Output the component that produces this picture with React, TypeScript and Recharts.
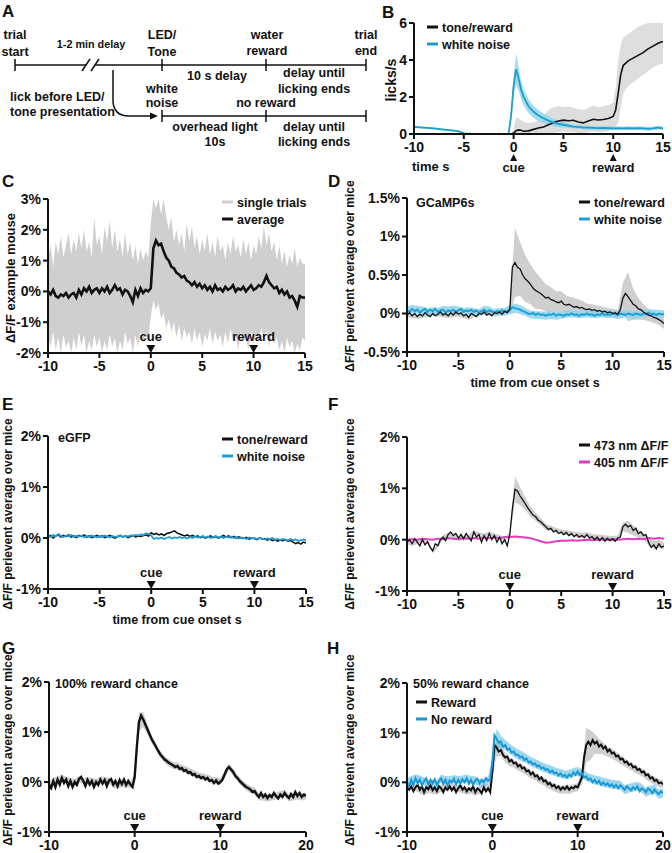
import React from 'react';
import { ComposedChart, Line, Area, XAxis, YAxis, ReferenceDot } from 'recharts';

const FONT = '"Liberation Sans", Arial, Helvetica, sans-serif';
const INK = '#111';
const GREY = '#cfcfcf';
const CYAN = '#1f9fd5';
const CYAN_BAND = '#8fd3ee';
const MAGENTA = '#e23cbf';

// ---------- B: licks ----------
const bTime = [-10, -9, -8, -7, -6, -5.5, -5, -4, -3, -2, -1, -0.5, -0.25, 0, 0.25, 0.5, 0.75, 1, 1.5, 2, 2.5, 3, 3.5, 4, 4.5, 5, 5.5, 6, 6.5, 7, 7.5, 8, 8.5, 9, 9.5, 10, 10.25, 10.5, 10.75, 11, 11.5, 12, 12.5, 13, 13.5, 14, 14.5, 15];
const bTone = [0, 0, 0, 0, 0, 0, 0, 0, 0, 0, 0, 0, 0,
  0.05, 0.18, 0.22, 0.2, 0.15, 0.17, 0.25, 0.32, 0.38, 0.5, 0.62, 0.7, 0.75,
  0.72, 0.74, 0.65, 0.6, 0.7, 0.8, 0.76, 0.78, 0.84, 0.95, 1.3, 2.2, 3.2, 3.7,
  3.95, 4.1, 4.25, 4.4, 4.6, 4.75, 4.9, 5.0];
const bToneLo = [0, 0, 0, 0, 0, 0, 0, 0, 0, 0, 0, 0, 0,
  0, 0, 0, 0, 0, 0, 0, 0, 0, 0, 0.05, 0.1, 0.15,
  0.1, 0.1, 0.05, 0.05, 0.1, 0.15, 0.1, 0.1, 0.15, 0.3, 0.4, 0.6, 1.4, 2.2,
  2.6, 2.8, 3.0, 3.2, 3.4, 3.6, 3.75, 3.8];
const bToneHi = [0, 0, 0, 0, 0, 0, 0, 0, 0, 0, 0, 0, 0,
  0.3, 0.9, 0.85, 0.75, 0.65, 0.6, 0.65, 0.75, 0.95, 1.3, 1.45, 1.5, 1.45,
  1.5, 1.4, 1.35, 1.3, 1.4, 1.55, 1.45, 1.5, 1.55, 1.7, 2.5, 4.0, 4.8, 5.2,
  5.4, 5.6, 5.8, 5.9, 6.0, 6.0, 6.0, 6.0];
const bNoise = [0.38, 0.34, 0.3, 0.24, 0.18, 0.14, 0.03, 0, 0, 0, 0, 0.02, 1.0,
  2.6, 3.5, 3.0, 2.4, 2.0, 1.5, 1.2, 1.0, 0.85, 0.72, 0.62, 0.55, 0.5,
  0.45, 0.4, 0.38, 0.35, 0.34, 0.33, 0.32, 0.33, 0.32, 0.3, 0.3, 0.31, 0.3, 0.3,
  0.32, 0.3, 0.31, 0.3, 0.28, 0.3, 0.34, 0.3];
const bNoiseSem = [0.05, 0.05, 0.05, 0.05, 0.05, 0.05, 0.05, 0, 0, 0, 0, 0.05, 0.3,
  0.5, 0.85, 0.65, 0.5, 0.45, 0.38, 0.33, 0.3, 0.27, 0.24, 0.2, 0.18, 0.15,
  0.13, 0.1, 0.1, 0.1, 0.1, 0.1, 0.1, 0.1, 0.1, 0.1, 0.1, 0.1, 0.1, 0.1,
  0.1, 0.1, 0.1, 0.1, 0.1, 0.1, 0.1, 0.1];

// ---------- C: example mouse (0.25 s grid from -10) ----------
const cAvg = [
  0.0, -0.1, 0.05, -0.15, -0.2, -0.1, -0.15, -0.05,
  -0.2, -0.1, -0.05, -0.2, 0.05, -0.1, 0.1, 0.0,
  0.15, -0.05, 0.05, 0.1, -0.05, 0.1, 0.0, 0.15,
  -0.05, 0.05, 0.2, 0.05, 0.1, -0.1, 0.05, 0.0,
  -0.15, -0.35, 0.05, -0.15, 0.1, -0.05, 0.05, 0.0,
  0.1, 1.4, 1.65, 1.5, 1.55, 1.3, 1.1, 1.0,
  0.8, 0.75, 0.6, 0.55, 0.45, 0.5, 0.35, 0.3,
  0.2, 0.3, 0.15, 0.25, 0.1, 0.2, 0.05, 0.15,
  0.0, 0.2, 0.05, 0.1, 0.0, 0.15, 0.05, 0.1,
  0.2, 0.0, 0.1, 0.05, 0.15, 0.0, 0.1, 0.2,
  0.05, 0.1, 0.2, 0.15, 0.3, 0.5, 0.3, 0.2,
  0.1, 0.15, -0.05, 0.05, -0.1, 0.0, -0.2, -0.15,
  -0.3, -0.5, -0.15, -0.2, -0.2];
const cTrialsHi = [
  1.0, 1.5, 0.8, 1.6, 1.2, 1.8, 1.1, 1.5,
  1.9, 1.2, 1.7, 1.3, 1.9, 1.4, 2.0, 1.3,
  1.6, 1.1, 2.4, 1.5, 1.8, 1.2, 2.1, 1.6,
  2.3, 1.4, 2.0, 1.3, 1.7, 1.1, 1.9, 1.2,
  1.6, 1.0, 1.5, 0.9, 1.4, 1.0, 1.3, 1.1,
  2.2, 3.0, 2.7, 3.0, 2.5, 3.0, 2.4, 2.0,
  2.4, 1.6, 2.0, 1.5, 1.9, 1.3, 2.2, 1.6,
  2.1, 1.4, 1.8, 1.2, 1.7, 1.3, 1.9, 1.2,
  1.6, 1.1, 1.8, 1.3, 1.5, 1.0, 1.6, 1.2,
  1.8, 1.3, 1.5, 1.1, 1.7, 1.2, 1.6, 1.0,
  1.5, 1.2, 1.8, 1.4, 2.1, 1.5, 1.9, 1.3,
  1.6, 1.0, 1.5, 0.9, 1.3, 0.8, 1.2, 0.9,
  1.4, 0.8, 1.1, 0.9, 0.9];
const cTrialsLo = [
  -1.4, -1.8, -1.3, -1.9, -1.5, -2.0, -1.4, -1.8,
  -1.6, -2.0, -1.5, -1.9, -1.3, -1.8, -1.4, -2.0,
  -1.6, -1.9, -1.4, -1.8, -1.5, -2.0, -1.6, -1.9,
  -1.4, -1.8, -1.5, -2.0, -1.6, -1.9, -1.3, -1.7,
  -1.5, -2.0, -1.4, -1.8, -1.3, -1.7, -1.4, -1.6,
  -0.8, -0.3, -0.6, -0.4, -0.9, -0.7, -1.2, -0.9,
  -1.3, -1.0, -1.5, -1.1, -1.6, -1.2, -1.5, -1.3,
  -1.7, -1.2, -1.6, -1.3, -1.8, -1.4, -1.6, -1.2,
  -1.7, -1.3, -1.6, -1.4, -1.8, -1.3, -1.7, -1.2,
  -1.6, -1.4, -1.9, -1.3, -1.6, -1.5, -1.9, -1.3,
  -1.7, -1.4, -1.6, -1.2, -1.5, -1.3, -1.8, -1.4,
  -1.7, -1.5, -1.9, -1.6, -2.0, -1.5, -1.8, -1.6,
  -2.0, -1.7, -1.9, -1.5, -1.6];

// ---------- D: GCaMP6s ----------
const dTone = [
  -0.02, 0.01, -0.03, 0.0, -0.04, -0.01, -0.03, 0.01,
  -0.02, -0.04, 0.0, -0.03, -0.01, 0.02, -0.02, 0.0,
  -0.03, 0.01, -0.02, 0.02, -0.01, 0.01, -0.03, -0.01,
  -0.05, 0.0, -0.02, -0.04, 0.0, -0.01, 0.02, -0.02,
  0.0, -0.03, 0.01, 0.0, 0.02, -0.01, 0.03, 0.01,
  0.05, 0.6, 0.66, 0.6, 0.58, 0.5, 0.45, 0.42,
  0.38, 0.33, 0.3, 0.28, 0.26, 0.23, 0.2, 0.21,
  0.18, 0.17, 0.15, 0.14, 0.16, 0.12, 0.11, 0.12,
  0.1, 0.08, 0.09, 0.07, 0.08, 0.06, 0.05, 0.06,
  0.04, 0.05, 0.03, 0.04, 0.02, 0.03, 0.01, 0.02,
  0.0, 0.01, -0.01, 0.05, 0.2, 0.26, 0.22, 0.17,
  0.12, 0.1, 0.06, 0.05, 0.02, 0.0, -0.02, -0.03,
  -0.05, -0.06, -0.08, -0.1, -0.13];
const dToneSem = [
  0.03, 0.03, 0.03, 0.03, 0.03, 0.03, 0.03, 0.03,
  0.03, 0.03, 0.03, 0.03, 0.03, 0.03, 0.03, 0.03,
  0.03, 0.03, 0.03, 0.03,
  0.05, 0.45, 0.35, 0.3, 0.26, 0.24, 0.2, 0.18,
  0.16, 0.14, 0.13, 0.12, 0.11, 0.1, 0.09, 0.08,
  0.08, 0.07, 0.07, 0.06, 0.06, 0.06, 0.2, 0.32,
  0.2, 0.14, 0.1, 0.08, 0.07, 0.07, 0.07];
const dNoise = [
  0.04, 0.02, 0.06, 0.03, 0.05, 0.01, 0.04, 0.06,
  0.02, 0.05, 0.03, 0.06, 0.02, 0.04, 0.05, 0.01,
  0.04, 0.03, 0.05, 0.02, 0.04, 0.06, 0.02, 0.04,
  0.03, 0.05, 0.02, 0.04, 0.01, 0.03, 0.05, 0.02,
  0.04, 0.03, 0.01, 0.03, 0.02, 0.04, 0.02, 0.03,
  0.05, 0.08, 0.07, 0.06, 0.05, 0.03, 0.02, 0.0,
  -0.01, 0.01, -0.02, 0.0, -0.02, -0.01, -0.03, -0.01,
  -0.02, 0.0, -0.03, -0.01, -0.02, -0.03, -0.01, -0.02,
  0.0, -0.02, -0.01, -0.03, -0.01, -0.02, 0.0, -0.02,
  -0.01, -0.03, -0.01, -0.02, 0.0, -0.02, -0.01, -0.02,
  0.0, -0.01, -0.02, 0.0, -0.01, -0.02, 0.0, -0.01,
  -0.02, 0.0, -0.01, -0.02, 0.0, -0.01, 0.01, -0.01,
  0.0, -0.02, 0.0, -0.01, -0.01];
const dNoiseSem = [
  0.05, 0.05, 0.05, 0.05, 0.05, 0.05, 0.05, 0.05,
  0.05, 0.05, 0.05, 0.05, 0.05, 0.05, 0.05, 0.05,
  0.05, 0.05, 0.05, 0.05,
  0.06, 0.06, 0.06, 0.05, 0.05, 0.05, 0.05, 0.05,
  0.05, 0.05, 0.05, 0.05, 0.05, 0.05, 0.05, 0.05,
  0.05, 0.05, 0.05, 0.05, 0.05, 0.05, 0.05, 0.05,
  0.05, 0.05, 0.05, 0.05, 0.05, 0.05, 0.05];

// ---------- E: eGFP ----------
const eTone = [
  0.02, 0.05, 0.0, 0.04, 0.06, 0.02, 0.05, 0.03,
  0.06, 0.02, 0.04, 0.01, 0.05, 0.03, 0.06, 0.02,
  0.04, 0.01, 0.03, 0.05, 0.02, 0.04, 0.01, 0.03,
  0.05, 0.02, 0.0, 0.03, 0.05, 0.02, 0.04, 0.01,
  0.03, 0.05, 0.02, 0.04, 0.03, 0.05, 0.06, 0.04,
  0.1, 0.07, 0.09, 0.06, 0.08, 0.05, 0.09, 0.1,
  0.12, 0.14, 0.1, 0.08, 0.06, 0.04, 0.06, 0.03,
  0.05, 0.02, 0.04, 0.01, 0.03, 0.0, 0.02, 0.04,
  0.01, 0.03, 0.0, 0.02, 0.05, 0.02, 0.04, 0.01,
  0.03, 0.0, 0.02, 0.0, -0.01, 0.01, -0.02, 0.0,
  -0.01, -0.03, 0.0, -0.02, -0.01, -0.04, -0.02, -0.05,
  -0.03, -0.06, -0.04, -0.05, -0.03, -0.06, -0.05, -0.08,
  -0.11, -0.09, -0.12, -0.08, -0.1];
const eNoise = [
  0.04, 0.02, 0.06, 0.03, 0.08, 0.04, 0.02, 0.05,
  0.03, 0.06, 0.02, 0.04, 0.03, 0.05, 0.01, 0.04,
  0.02, 0.05, 0.03, 0.01, 0.04, 0.02, 0.05, 0.03,
  0.01, 0.04, 0.02, 0.03, 0.05, 0.02, 0.04, 0.03,
  0.05, 0.04, 0.06, 0.05, 0.07, 0.06, 0.09, 0.08,
  0.05, -0.02, 0.0, -0.01, 0.01, -0.02, 0.0, 0.02,
  -0.01, 0.01, 0.0, 0.02, 0.0, 0.01, -0.01, 0.02,
  0.0, 0.03, 0.01, 0.02, 0.04, 0.01, 0.03, 0.0,
  0.02, 0.04, 0.01, 0.03, 0.0, 0.02, 0.01, 0.03,
  0.0, 0.02, -0.01, 0.01, 0.0, -0.02, 0.01, -0.01,
  0.0, -0.02, 0.0, -0.01, -0.03, -0.01, -0.02, 0.0,
  -0.03, -0.02, -0.04, -0.02, -0.03, -0.05, -0.02, -0.04,
  -0.03, -0.06, -0.04, -0.03, -0.05];

// ---------- F: 473 vs 405 nm ----------
const f473 = [
  -0.05, 0.0, -0.08, 0.02, -0.05, -0.12, 0.0, -0.1,
  -0.04, -0.15, -0.22, -0.08, -0.12, 0.0, 0.05, -0.02,
  0.1, 0.15, 0.08, 0.12, 0.03, 0.1, 0.02, 0.12,
  0.05, -0.02, 0.15, 0.05, 0.1, -0.05, 0.08, -0.02,
  0.12, 0.0, 0.08, -0.05, 0.05, -0.08, 0.0, -0.12,
  0.1, 0.6, 0.98, 0.95, 0.85, 0.78, 0.7, 0.62,
  0.55, 0.48, 0.45, 0.38, 0.35, 0.3, 0.25, 0.2,
  0.22, 0.15, 0.18, 0.12, 0.15, 0.1, 0.14, 0.08,
  0.12, 0.06, 0.1, 0.05, 0.08, 0.04, 0.1, 0.03,
  0.06, 0.0, 0.05, -0.02, 0.04, -0.03, 0.03, -0.02,
  0.02, -0.03, 0.03, 0.05, 0.25, 0.3, 0.25, 0.28,
  0.18, 0.22, 0.12, 0.15, 0.08, 0.1, -0.05, -0.15,
  -0.1, -0.18, -0.08, -0.15, -0.12];
const f473Sem = [
  0.04, 0.04, 0.04, 0.04, 0.04, 0.04, 0.04, 0.04,
  0.04, 0.04, 0.04, 0.04, 0.04, 0.04, 0.04, 0.04,
  0.04, 0.04, 0.04, 0.04,
  0.05, 0.25, 0.18, 0.12, 0.1, 0.08, 0.07, 0.06,
  0.05, 0.05, 0.05, 0.05, 0.05, 0.05, 0.05, 0.05,
  0.05, 0.05, 0.05, 0.05, 0.05, 0.05, 0.08, 0.12,
  0.1, 0.08, 0.06, 0.07, 0.08, 0.08, 0.07];
// 0.5 s grid
const f405 = [
  0.0, 0.01, 0.0, 0.02, 0.01, 0.0, 0.02, 0.01,
  0.03, 0.02, 0.01, 0.03, 0.02, 0.03, 0.02, 0.04,
  0.03, 0.04, 0.03, 0.05,
  0.05, 0.06, 0.05, 0.04, 0.03, 0.0, -0.03, -0.06,
  -0.05, -0.03, -0.02, -0.02, -0.01, -0.02, -0.01, 0.0,
  -0.01, 0.0, 0.01, 0.0, 0.01, 0.0, 0.01, 0.02,
  0.01, 0.02, 0.01, 0.03, 0.02, 0.03, 0.02];

// ---------- G: 100% reward chance (0.25 s grid, -10..20) ----------
const gAll = [
  -0.05, -0.12, 0.02, -0.1, 0.05, -0.05, 0.08, -0.02,
  0.05, -0.08, 0.02, -0.1, 0.0, -0.06, 0.06, 0.1,
  0.02, -0.08, 0.04, -0.05, 0.02, -0.1, 0.0, -0.06,
  0.05, -0.03, 0.04, -0.08, 0.03, 0.06, -0.05, 0.02,
  -0.08, 0.04, -0.04, 0.05, -0.06, 0.02, -0.05, -0.1,
  0.1, 0.7, 1.2, 1.33, 1.25, 1.15, 1.05, 0.95,
  0.85, 0.78, 0.7, 0.62, 0.55, 0.5, 0.45, 0.42,
  0.38, 0.36, 0.33, 0.3, 0.32, 0.26, 0.28, 0.22,
  0.24, 0.18, 0.2, 0.14, 0.16, 0.1, 0.12, 0.08,
  0.1, 0.05, 0.08, 0.02, 0.04, -0.02, 0.03, -0.03,
  0.0, 0.05, 0.15, 0.25, 0.3, 0.25, 0.2, 0.12,
  0.08, 0.02, -0.02, -0.06, -0.1, -0.12, -0.15, -0.2,
  -0.18, -0.25, -0.3, -0.22, -0.3, -0.25, -0.32, -0.26,
  -0.3, -0.22, -0.28, -0.33, -0.25, -0.3, -0.22, -0.28,
  -0.32, -0.24, -0.3, -0.2, -0.28, -0.22, -0.3, -0.25,
  -0.28];
const gAllSem = [
  0.06, 0.06, 0.06, 0.06, 0.06, 0.06, 0.06, 0.06,
  0.06, 0.06, 0.06, 0.06, 0.06, 0.06, 0.06, 0.06,
  0.06, 0.06, 0.06, 0.06,
  0.06, 0.18, 0.15, 0.1, 0.08, 0.07, 0.07, 0.07,
  0.07, 0.07, 0.07, 0.07, 0.07, 0.07, 0.07, 0.07,
  0.07, 0.07, 0.07, 0.07, 0.07, 0.07, 0.07, 0.07,
  0.07, 0.07, 0.07, 0.07, 0.07, 0.07, 0.07, 0.07,
  0.07, 0.07, 0.07, 0.07, 0.07, 0.07, 0.07, 0.07,
  0.07];

// ---------- H: 50% reward chance ----------
const hReward = [
  -0.1, -0.15, -0.08, -0.18, -0.1, -0.05, -0.15, -0.08,
  -0.2, -0.1, -0.14, -0.06, -0.16, -0.1, -0.18, -0.08,
  -0.12, -0.2, -0.1, -0.15, -0.08, -0.16, -0.1, -0.2,
  -0.12, -0.06, -0.15, -0.1, -0.18, -0.12, -0.16, -0.08,
  -0.2, -0.12, -0.16, -0.22, -0.1, -0.18, -0.12, -0.2,
  0.2, 0.75, 0.7, 0.62, 0.65, 0.55, 0.5, 0.52,
  0.42, 0.45, 0.38, 0.4, 0.32, 0.35, 0.28, 0.3,
  0.22, 0.24, 0.16, 0.2, 0.12, 0.14, 0.06, 0.1,
  0.02, 0.04, -0.04, -0.01, -0.08, -0.05, -0.12, -0.08,
  -0.15, -0.1, -0.14, -0.08, -0.15, -0.1, -0.12, -0.08,
  -0.1, 0.0, 0.1, 0.5, 0.75, 0.82, 0.75, 0.85,
  0.78, 0.82, 0.72, 0.76, 0.68, 0.72, 0.62, 0.66,
  0.58, 0.6, 0.52, 0.54, 0.46, 0.48, 0.4, 0.42,
  0.35, 0.37, 0.3, 0.32, 0.25, 0.27, 0.2, 0.22,
  0.14, 0.16, 0.08, 0.1, 0.03, 0.05, -0.02, 0.0,
  -0.04];
const hRewardSem = [
  0.07, 0.07, 0.07, 0.07, 0.07, 0.07, 0.07, 0.07,
  0.07, 0.07, 0.07, 0.07, 0.07, 0.07, 0.07, 0.07,
  0.07, 0.07, 0.07, 0.07,
  0.08, 0.18, 0.12, 0.1, 0.09, 0.08, 0.08, 0.08,
  0.08, 0.08, 0.08, 0.08, 0.08, 0.08, 0.08, 0.08,
  0.08, 0.08, 0.08, 0.08, 0.08, 0.15, 0.35, 0.3,
  0.2, 0.15, 0.12, 0.1, 0.1, 0.09, 0.09, 0.08,
  0.08, 0.08, 0.08, 0.08, 0.08, 0.08, 0.08, 0.08,
  0.08];
const hNoReward = [
  0.0, -0.08, 0.05, -0.05, 0.08, -0.02, 0.06, -0.06,
  0.02, 0.08, -0.04, 0.05, -0.02, 0.06, -0.05, 0.03,
  0.08, -0.03, 0.05, -0.06, 0.04, 0.0, 0.07, -0.04,
  0.05, -0.02, 0.06, 0.0, 0.08, -0.03, 0.05, -0.05,
  0.04, 0.07, -0.02, 0.05, 0.0, 0.08, 0.03, 0.06,
  0.4, 0.95, 0.88, 0.8, 0.82, 0.72, 0.75, 0.66,
  0.68, 0.6, 0.62, 0.55, 0.56, 0.5, 0.52, 0.45,
  0.48, 0.4, 0.42, 0.36, 0.38, 0.32, 0.34, 0.28,
  0.3, 0.25, 0.27, 0.2, 0.24, 0.18, 0.2, 0.14,
  0.18, 0.12, 0.15, 0.1, 0.16, 0.12, 0.2, 0.15,
  0.22, 0.15, 0.18, 0.1, 0.12, 0.05, 0.08, 0.0,
  0.05, -0.02, 0.03, -0.05, 0.0, -0.06, -0.02, -0.08,
  -0.04, -0.1, -0.05, -0.12, -0.06, -0.1, -0.15, -0.08,
  -0.12, -0.16, -0.1, -0.14, -0.08, -0.18, -0.12, -0.15,
  -0.2, -0.12, -0.16, -0.22, -0.14, -0.2, -0.24, -0.18,
  -0.22];
const hNoRewardSem = [
  0.08, 0.08, 0.08, 0.08, 0.08, 0.08, 0.08, 0.08,
  0.08, 0.08, 0.08, 0.08, 0.08, 0.08, 0.08, 0.08,
  0.08, 0.08, 0.08, 0.08,
  0.1, 0.2, 0.12, 0.1, 0.1, 0.1, 0.1, 0.1,
  0.09, 0.09, 0.09, 0.09, 0.09, 0.09, 0.09, 0.09,
  0.09, 0.09, 0.09, 0.09, 0.09, 0.09, 0.09, 0.09,
  0.09, 0.09, 0.09, 0.09, 0.09, 0.09, 0.09, 0.09,
  0.09, 0.09, 0.09, 0.09, 0.09, 0.09, 0.09, 0.09,
  0.09];

const ticks15 = [-10, -5, 0, 5, 10, 15];
const ticks20 = [-10, 0, 10, 20];

// rows on the sampling grid (samples start at -10 s)
const rows = (ys: number[], step = 0.25) => ys.map((y, i) => ({ t: -10 + i * step, y }));
const rangeRows = (hi: number[], lo: number[]) => hi.map((h, i) => ({ t: -10 + i * 0.25, r: [lo[i], h] }));
// mean ± sem band on the 0.5 s grid
const semRows = (mean: number[], sem: number[]) =>
  sem.map((s, i) => ({ t: -10 + i * 0.5, r: [mean[2 * i] - s, mean[2 * i] + s] }));

const bRows = bTime.map((t, i) => ({
  t,
  tone: bTone[i],
  noise: bNoise[i],
  toneBand: [bToneLo[i], bToneHi[i]],
  noiseBand: [Math.max(0, bNoise[i] - bNoiseSem[i]), bNoise[i] + bNoiseSem[i]],
}));

const txt = { fontFamily: FONT, fontWeight: 700, fill: INK } as const;
const axisStyle = { stroke: INK, strokeWidth: 2 };
const tickStyle = { fill: INK, fontSize: 14, fontWeight: 700, fontFamily: FONT };

const downMark = (label: string) => (p: any) => (
  <g>
    <polygon points={`${p.cx - 4.5},${p.cy - 8} ${p.cx + 4.5},${p.cy - 8} ${p.cx},${p.cy}`} fill={INK} />
    <text x={p.cx} y={p.cy - 12} textAnchor="middle" fontSize={13} style={txt}>{label}</text>
  </g>
);
const upMark = (label: string) => (p: any) => (
  <g>
    <polygon points={`${p.cx - 3.5},${p.cy + 27} ${p.cx + 3.5},${p.cy + 27} ${p.cx},${p.cy + 20}`} fill={INK} />
    <text x={p.cx} y={p.cy + 38} textAnchor="middle" fontSize={13} style={txt}>{label}</text>
  </g>
);

type Box = { x0: number; x1: number; y0: number; y1: number };

function Panel({ box, xMax, xTicks, yDomain, yTicks, pct = true, bottom = 30, data, children }: any) {
  const b: Box = box;
  const width = b.x1 - b.x0 + 70;
  const height = b.y1 - b.y0 + 10 + bottom;
  return (
    <div style={{ position: 'absolute', left: b.x0 - 60, top: b.y0 - 10 }}>
      <ComposedChart width={width} height={height} data={data} margin={{ top: 10, right: 10, bottom: 0, left: 0 }}>
        <XAxis type="number" dataKey="t" domain={[-10, xMax]} ticks={xTicks} interval={0} allowDataOverflow
          height={bottom} axisLine={axisStyle} tickLine={axisStyle} tickSize={5} tickMargin={3} tick={tickStyle} />
        <YAxis type="number" domain={yDomain} ticks={yTicks} interval={0} allowDataOverflow width={60}
          axisLine={axisStyle} tickLine={axisStyle} tickSize={5} tickMargin={2} tick={tickStyle}
          tickFormatter={pct ? (v: number) => `${v}%` : undefined} />
        {children}
      </ComposedChart>
    </div>
  );
}

const boxB = { x0: 414, x1: 663, y0: 23, y1: 134 };
const boxC = { x0: 48, x1: 305, y0: 199, y1: 353 };
const boxD = { x0: 407, x1: 664, y0: 198, y1: 352 };
const boxE = { x0: 48, x1: 306, y0: 436, y1: 589 };
const boxF = { x0: 407, x1: 664, y0: 437, y1: 591 };
const boxG = { x0: 49, x1: 306, y0: 682, y1: 832 };
const boxH = { x0: 407, x1: 663, y0: 683, y1: 832 };

function Legend({ x, y, items }: { x: number; y: number; items: [string, string][] }) {
  return (
    <g>
      {items.map(([label, color], i) => (
        <g key={label}>
          <line x1={x} x2={x + 11} y1={y + i * 17} y2={y + i * 17} stroke={color} strokeWidth={3} />
          <text x={x + 15} y={y + i * 17 + 4.5} fontSize={12.5} style={txt}>{label}</text>
        </g>
      ))}
    </g>
  );
}

function VLabel({ x, y, size = 12, children }: any) {
  return (
    <text transform={`translate(${x},${y}) rotate(-90)`} textAnchor="middle" dominantBaseline="central" fontSize={size} style={txt}>
      {children}
    </text>
  );
}

function Timeline() {
  const c = (x: number, y: number, s: string, size = 12.5) => (
    <text key={s + x + y} x={x} y={y} textAnchor="middle" fontSize={size} style={txt}>{s}</text>
  );
  return (
    <g>
      <line x1={15} x2={86} y1={65} y2={65} stroke={INK} strokeWidth={1.5} />
      <line x1={95} x2={366} y1={65} y2={65} stroke={INK} strokeWidth={1.5} />
      <line x1={82} x2={90} y1={71} y2={59} stroke={INK} strokeWidth={1.5} />
      <line x1={91} x2={99} y1={71} y2={59} stroke={INK} strokeWidth={1.5} />
      {[15, 162, 266, 366].map((x) => (
        <line key={'u' + x} x1={x} x2={x} y1={59} y2={71} stroke={INK} strokeWidth={1.5} />
      ))}
      <line x1={162} x2={366} y1={116} y2={116} stroke={INK} strokeWidth={1.5} />
      {[162, 266, 366].map((x) => (
        <line key={'l' + x} x1={x} x2={x} y1={110} y2={122} stroke={INK} strokeWidth={1.5} />
      ))}
      <path d="M113,70 L113,100 Q113,116 129,116 L151,116" fill="none" stroke={INK} strokeWidth={1.5} />
      <polygon points="158,116 150,112.5 150,119.5" fill={INK} />
      {c(15, 39, 'trial')}{c(15, 56, 'start')}
      {c(91, 48, '1-2 min delay', 10.8)}
      {c(162, 39, 'LED/')}{c(162, 56, 'Tone')}
      {c(267, 39, 'water')}{c(267, 55, 'reward')}
      {c(366, 39, 'trial')}{c(366, 55, 'end')}
      {c(217, 80, '10 s delay')}
      {c(314, 77, 'delay until')}{c(314, 93, 'licking ends')}
      {c(162, 93, 'white')}{c(162, 107, 'noise')}
      {c(266, 107, 'no reward')}
      <text x={10} y={101} fontSize={12.5} style={txt}>lick before LED/</text>
      <text x={10} y={116} fontSize={12.5} style={txt}>tone presentation</text>
      {c(215, 131, 'overhead light')}{c(215, 146, '10s')}
      {c(314, 131, 'delay until')}{c(314, 146, 'licking ends')}
    </g>
  );
}

export default function App() {
  const letter = (x: number, y: number, s: string) => (
    <text key={s} x={x} y={y} fontSize={17} style={txt}>{s}</text>
  );
  return (
    <div style={{ position: 'absolute', left: 0, top: 0, width: 672, height: 853, background: '#fff', fontFamily: FONT }}>
      {/* B */}
      <Panel box={boxB} xMax={15} xTicks={ticks15} yDomain={[0, 6]} yTicks={[0, 2, 4, 6]} pct={false} bottom={48} data={bRows}>
        <Area dataKey="toneBand" type="linear" stroke="none" fill="#d4d4d4" fillOpacity={0.8} isAnimationActive={false} />
        <Area dataKey="noiseBand" type="linear" stroke="none" fill={CYAN_BAND} fillOpacity={0.8} isAnimationActive={false} />
        <Line dataKey="tone" type="linear" stroke={INK} strokeWidth={1.6} dot={false} isAnimationActive={false} />
        <Line dataKey="noise" type="linear" stroke="#1d9fc8" strokeWidth={1.8} dot={false} isAnimationActive={false} />
        <ReferenceDot x={0} y={0} r={0} ifOverflow="visible" shape={upMark('cue')} />
        <ReferenceDot x={10} y={0} r={0} ifOverflow="visible" shape={upMark('reward')} />
      </Panel>

      {/* C */}
      <Panel box={boxC} xMax={15} xTicks={ticks15} yDomain={[-2, 3]} yTicks={[-2, -1, 0, 1, 2, 3]}>
        <Area data={rangeRows(cTrialsHi, cTrialsLo)} dataKey="r" type="linear" stroke="none" fill={GREY} fillOpacity={1} isAnimationActive={false} />
        <Line data={rows(cAvg)} dataKey="y" type="linear" stroke={INK} strokeWidth={2.6} dot={false} isAnimationActive={false} />
        <ReferenceDot x={0} y={-2} r={0} ifOverflow="visible" shape={downMark('cue')} />
        <ReferenceDot x={10} y={-2} r={0} ifOverflow="visible" shape={downMark('reward')} />
      </Panel>

      {/* D */}
      <Panel box={boxD} xMax={15} xTicks={ticks15} yDomain={[-0.5, 1.5]} yTicks={[-0.5, 0, 0.5, 1, 1.5]}>
        <Area data={semRows(dTone, dToneSem)} dataKey="r" type="linear" stroke="none" fill={GREY} fillOpacity={1} isAnimationActive={false} />
        <Area data={semRows(dNoise, dNoiseSem)} dataKey="r" type="linear" stroke="none" fill={CYAN_BAND} fillOpacity={0.85} isAnimationActive={false} />
        <Line data={rows(dNoise)} dataKey="y" type="linear" stroke={CYAN} strokeWidth={2} dot={false} isAnimationActive={false} />
        <Line data={rows(dTone)} dataKey="y" type="linear" stroke={INK} strokeWidth={1.3} dot={false} isAnimationActive={false} />
      </Panel>

      {/* E */}
      <Panel box={boxE} xMax={15} xTicks={ticks15} yDomain={[-1, 2]} yTicks={[-1, 0, 1, 2]}>
        <Line data={rows(eTone)} dataKey="y" type="linear" stroke={INK} strokeWidth={1.6} dot={false} isAnimationActive={false} />
        <Line data={rows(eNoise)} dataKey="y" type="linear" stroke={CYAN} strokeWidth={1.8} dot={false} isAnimationActive={false} />
        <ReferenceDot x={0} y={-1} r={0} ifOverflow="visible" shape={downMark('cue')} />
        <ReferenceDot x={10} y={-1} r={0} ifOverflow="visible" shape={downMark('reward')} />
      </Panel>

      {/* F */}
      <Panel box={boxF} xMax={15} xTicks={ticks15} yDomain={[-1, 2]} yTicks={[-1, 0, 1, 2]}>
        <Area data={semRows(f473, f473Sem)} dataKey="r" type="linear" stroke="none" fill={GREY} fillOpacity={1} isAnimationActive={false} />
        <Line data={rows(f405, 0.5)} dataKey="y" type="linear" stroke={MAGENTA} strokeWidth={2} dot={false} isAnimationActive={false} />
        <Line data={rows(f473)} dataKey="y" type="linear" stroke={INK} strokeWidth={1.3} dot={false} isAnimationActive={false} />
        <ReferenceDot x={0} y={-1} r={0} ifOverflow="visible" shape={downMark('cue')} />
        <ReferenceDot x={10} y={-1} r={0} ifOverflow="visible" shape={downMark('reward')} />
      </Panel>

      {/* G */}
      <Panel box={boxG} xMax={20} xTicks={ticks20} yDomain={[-1, 2]} yTicks={[-1, 0, 1, 2]}>
        <Area data={semRows(gAll, gAllSem)} dataKey="r" type="linear" stroke="none" fill={GREY} fillOpacity={1} isAnimationActive={false} />
        <Line data={rows(gAll)} dataKey="y" type="linear" stroke={INK} strokeWidth={2.4} dot={false} isAnimationActive={false} />
        <ReferenceDot x={0} y={-1} r={0} ifOverflow="visible" shape={downMark('cue')} />
        <ReferenceDot x={10} y={-1} r={0} ifOverflow="visible" shape={downMark('reward')} />
      </Panel>

      {/* H */}
      <Panel box={boxH} xMax={20} xTicks={ticks20} yDomain={[-1, 2]} yTicks={[-1, 0, 1, 2]}>
        <Area data={semRows(hReward, hRewardSem)} dataKey="r" type="linear" stroke="none" fill={GREY} fillOpacity={1} isAnimationActive={false} />
        <Line data={rows(hReward)} dataKey="y" type="linear" stroke={INK} strokeWidth={2} dot={false} isAnimationActive={false} />
        <Area data={semRows(hNoReward, hNoRewardSem)} dataKey="r" type="linear" stroke="none" fill="#5fbde8" fillOpacity={0.6} isAnimationActive={false} />
        <Line data={rows(hNoReward)} dataKey="y" type="linear" stroke="#1a98d4" strokeWidth={2} dot={false} isAnimationActive={false} />
        <ReferenceDot x={0} y={-1} r={0} ifOverflow="visible" shape={downMark('cue')} />
        <ReferenceDot x={10} y={-1} r={0} ifOverflow="visible" shape={downMark('reward')} />
      </Panel>

      <svg width={672} height={853} style={{ position: 'absolute', left: 0, top: 0, pointerEvents: 'none' }}>
        {letter(2, 17, 'A')}{letter(382, 18, 'B')}{letter(2, 187, 'C')}{letter(328, 187, 'D')}
        {letter(2, 410, 'E')}{letter(328, 410, 'F')}{letter(2, 654, 'G')}{letter(327, 654, 'H')}
        <Timeline />

        <VLabel x={391} y={80} size={14}>licks/s</VLabel>
        <text x={412} y={171} fontSize={13} style={txt}>time s</text>
        <Legend x={427} y={27} items={[['tone/reward', INK], ['white noise', '#1d9fc8']]} />

        <VLabel x={10} y={278} size={13}>ΔF/F example mouse</VLabel>
        <Legend x={222} y={202} items={[['single trials', GREY], ['average', INK]]} />

        <VLabel x={350} y={276}>ΔF/F perievent average over mice</VLabel>
        <text x={416} y={206.5} fontSize={12.5} style={txt}>GCaMP6s</text>
        <Legend x={579} y={202} items={[['tone/reward', INK], ['white noise', CYAN]]} />
        <text x={535} y={387} textAnchor="middle" fontSize={12.5} style={txt}>time from cue onset s</text>

        <VLabel x={8} y={514}>ΔF/F perievent average over mice</VLabel>
        <text x={58} y={442} fontSize={12.5} style={txt}>eGFP</text>
        <Legend x={222} y={439} items={[['tone/reward', INK], ['white noise', CYAN]]} />
        <text x={177} y={624} textAnchor="middle" fontSize={12.5} style={txt}>time from cue onset s</text>

        <VLabel x={350} y={514}>ΔF/F perievent average over mice</VLabel>
        <Legend x={579} y={445} items={[['473 nm ΔF/F', INK], ['405 nm ΔF/F', MAGENTA]]} />

        <VLabel x={8} y={750}>ΔF/F perievent average over mice</VLabel>
        <text x={55} y={687.5} fontSize={12.5} style={txt}>100% reward chance</text>

        <VLabel x={350} y={750}>ΔF/F perievent average over mice</VLabel>
        <text x={413} y={687.5} fontSize={12.5} style={txt}>50% reward chance</text>
        <Legend x={416} y={702} items={[['Reward', INK], ['No reward', '#1a98d4']]} />
      </svg>
    </div>
  );
}
